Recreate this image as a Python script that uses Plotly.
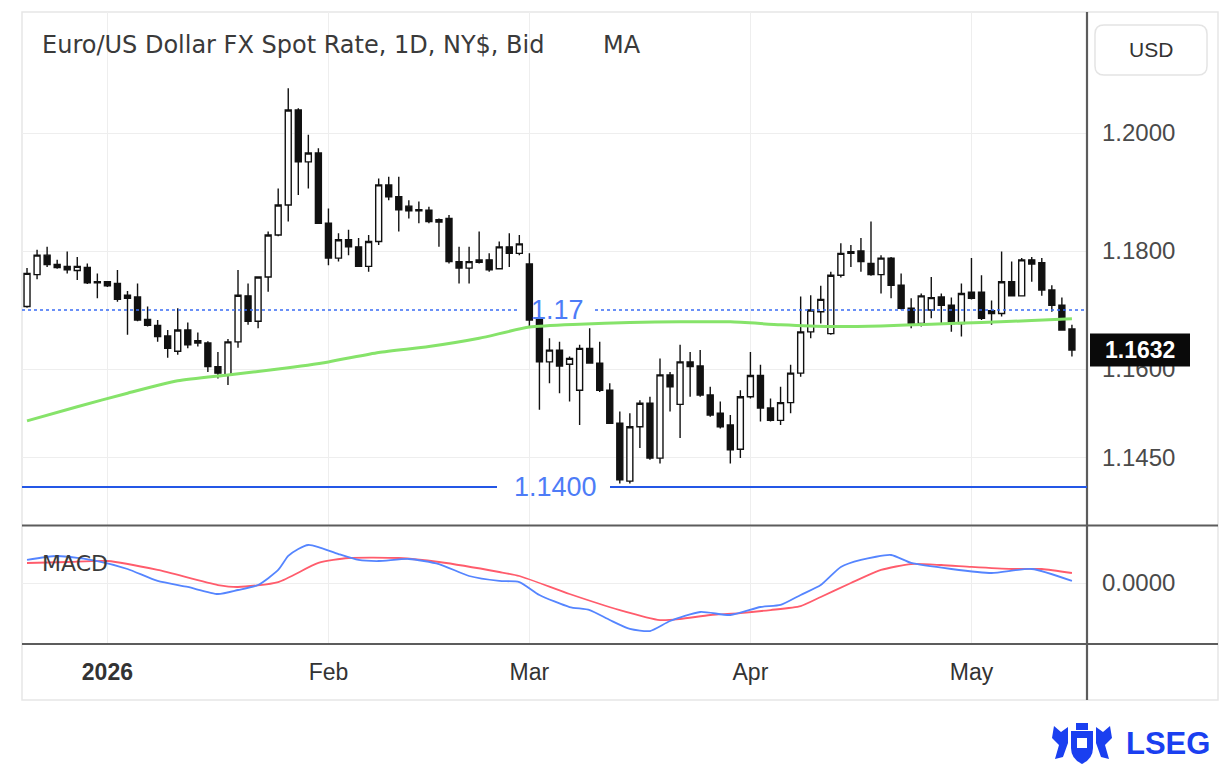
import plotly.graph_objects as go
import pandas as pd

# ---------------- data ----------------
dates = [d.strftime("%Y-%m-%d") for d in pd.bdate_range("2025-12-22", "2026-05-15")]

opens = [1.1706, 1.1760, 1.1793, 1.1777, 1.1774, 1.1767, 1.1772, 1.1746, 1.1748, 1.1745,
         1.1725, 1.1722, 1.1684, 1.1674, 1.1656, 1.1630, 1.1666, 1.1648, 1.1644, 1.1604,
         1.1590, 1.1646, 1.1724, 1.1681, 1.1756, 1.1827, 1.1878, 1.2039, 1.1951, 1.1966,
         1.1847, 1.1788, 1.1819, 1.1807, 1.1774, 1.1816, 1.1912, 1.1892, 1.1876, 1.1868,
         1.1869, 1.1853, 1.1855, 1.1782, 1.1771, 1.1781, 1.1785, 1.1770, 1.1807, 1.1796,
         1.1778, 1.1684, 1.1612, 1.1632, 1.1608, 1.1564, 1.1635, 1.1610, 1.1564, 1.1508,
         1.1410, 1.1502, 1.1542, 1.1449, 1.1590, 1.1540, 1.1612, 1.1605, 1.1556, 1.1525,
         1.1505, 1.1464, 1.1553, 1.1589, 1.1534, 1.1513, 1.1543, 1.1593, 1.1663, 1.1697,
         1.1660, 1.1759, 1.1796, 1.1800, 1.1779, 1.1760, 1.1788, 1.1742, 1.1703, 1.1677,
         1.1700, 1.1722, 1.1708, 1.1677, 1.1730, 1.1730, 1.1699, 1.1694, 1.1748, 1.1724,
         1.1785, 1.1780, 1.1734, 1.1708, 1.1668]
highs = [1.1771, 1.1802, 1.1807, 1.1785, 1.1799, 1.1790, 1.1779, 1.1762, 1.1749, 1.1768,
         1.1732, 1.1745, 1.1706, 1.1683, 1.1666, 1.1703, 1.1679, 1.1662, 1.1647, 1.1629,
         1.1651, 1.1768, 1.1745, 1.1757, 1.1833, 1.1906, 1.2076, 1.2042, 1.1997, 1.1974,
         1.1872, 1.1830, 1.1836, 1.1822, 1.1827, 1.1923, 1.1926, 1.1926, 1.1886, 1.1884,
         1.1875, 1.1855, 1.1861, 1.1807, 1.1807, 1.1833, 1.1796, 1.1816, 1.1830, 1.1827,
         1.1796, 1.1689, 1.1652, 1.1646, 1.1621, 1.1641, 1.1669, 1.1646, 1.1576, 1.1528,
         1.1525, 1.1547, 1.1553, 1.1618, 1.1595, 1.1641, 1.1629, 1.1632, 1.1570, 1.1545,
         1.1522, 1.1564, 1.1629, 1.1607, 1.1550, 1.1570, 1.1607, 1.1723, 1.1725, 1.1741,
         1.1765, 1.1813, 1.1810, 1.1822, 1.1850, 1.1793, 1.1790, 1.1762, 1.1720, 1.1728,
         1.1756, 1.1728, 1.1721, 1.1745, 1.1788, 1.1759, 1.1716, 1.1799, 1.1782, 1.1788,
         1.1790, 1.1788, 1.1742, 1.1721, 1.1675]
lows = [1.1704, 1.1752, 1.1773, 1.1770, 1.1762, 1.1751, 1.1744, 1.1720, 1.1739, 1.1714,
        1.1658, 1.1681, 1.1672, 1.1646, 1.1619, 1.1624, 1.1635, 1.1638, 1.1595, 1.1584,
        1.1573, 1.1636, 1.1675, 1.1669, 1.1731, 1.1825, 1.1850, 1.1895, 1.1906, 1.1847,
        1.1776, 1.1782, 1.1793, 1.1773, 1.1765, 1.1810, 1.1886, 1.1833, 1.1855, 1.1847,
        1.1847, 1.1807, 1.1779, 1.1745, 1.1745, 1.1779, 1.1765, 1.1769, 1.1773, 1.1793,
        1.1672, 1.1531, 1.1576, 1.1559, 1.1545, 1.1505, 1.1610, 1.1561, 1.1508, 1.1406,
        1.1406, 1.1466, 1.1446, 1.1440, 1.1528, 1.1483, 1.1553, 1.1553, 1.1519, 1.1499,
        1.1440, 1.1449, 1.1550, 1.1511, 1.1511, 1.1505, 1.1525, 1.1587, 1.1652, 1.1677,
        1.1658, 1.1755, 1.1773, 1.1765, 1.1758, 1.1728, 1.1720, 1.1701, 1.1669, 1.1672,
        1.1686, 1.1677, 1.1663, 1.1655, 1.1718, 1.1683, 1.1675, 1.1689, 1.1723, 1.1723,
        1.1748, 1.1724, 1.1697, 1.1665, 1.1621]
closes = [1.1762, 1.1793, 1.1777, 1.1772, 1.1768, 1.1774, 1.1746, 1.1748, 1.1741, 1.1718,
          1.1720, 1.1683, 1.1674, 1.1655, 1.1635, 1.1666, 1.1641, 1.1644, 1.1604, 1.1593,
          1.1646, 1.1725, 1.1681, 1.1756, 1.1827, 1.1878, 1.2039, 1.1951, 1.1966, 1.1847,
          1.1788, 1.1819, 1.1807, 1.1774, 1.1816, 1.1912, 1.1892, 1.1870, 1.1868, 1.1870,
          1.1850, 1.1849, 1.1782, 1.1771, 1.1782, 1.1785, 1.1768, 1.1807, 1.1796, 1.1812,
          1.1683, 1.1612, 1.1632, 1.1605, 1.1618, 1.1635, 1.1610, 1.1564, 1.1508, 1.1412,
          1.1502, 1.1542, 1.1449, 1.1590, 1.1570, 1.1612, 1.1604, 1.1556, 1.1522, 1.1502,
          1.1463, 1.1553, 1.1589, 1.1534, 1.1513, 1.1543, 1.1593, 1.1663, 1.1700, 1.1718,
          1.1759, 1.1796, 1.1799, 1.1782, 1.1760, 1.1788, 1.1742, 1.1703, 1.1677, 1.1724,
          1.1721, 1.1708, 1.1677, 1.1728, 1.1720, 1.1686, 1.1694, 1.1748, 1.1724, 1.1785,
          1.1778, 1.1734, 1.1708, 1.1666, 1.1632]

ma_dates = ["2025-12-22", "2025-12-29", "2026-01-05", "2026-01-12", "2026-01-19", "2026-01-26",
            "2026-02-02", "2026-02-09", "2026-02-16", "2026-02-23", "2026-03-02", "2026-03-09",
            "2026-03-16", "2026-03-23", "2026-03-30", "2026-04-06", "2026-04-13", "2026-04-20",
            "2026-04-27", "2026-05-04", "2026-05-11", "2026-05-15"]
ma_values = [1.1512, 1.1536, 1.1559, 1.1580, 1.1590, 1.1600, 1.1612, 1.1628, 1.1638, 1.1652,
             1.1671, 1.1676, 1.1679, 1.1680, 1.1680, 1.1675, 1.1672, 1.1673, 1.1676, 1.1679,
             1.1682, 1.1685]

macd_dates = ["2025-12-22", "2025-12-25", "2025-12-31", "2026-01-05", "2026-01-08", "2026-01-13",
              "2026-01-16", "2026-01-20", "2026-01-22", "2026-01-26", "2026-01-27", "2026-01-28",
              "2026-01-29", "2026-01-30", "2026-02-03", "2026-02-05", "2026-02-09", "2026-02-12",
              "2026-02-17", "2026-02-20", "2026-02-25", "2026-02-27", "2026-03-03", "2026-03-06",
              "2026-03-10", "2026-03-12", "2026-03-16", "2026-03-18", "2026-03-20", "2026-03-25",
              "2026-03-30", "2026-04-02", "2026-04-06", "2026-04-08", "2026-04-10", "2026-04-14",
              "2026-04-16", "2026-04-21", "2026-04-23", "2026-04-29", "2026-05-05", "2026-05-11",
              "2026-05-15"]
macd_values = [0.00329, 0.00386, 0.00314, 0.00200, 0.00029, -0.00057, -0.00157, -0.00100,
               -0.00029, 0.00186, 0.00386, 0.00486, 0.00543, 0.00514, 0.00414, 0.00329,
               0.00314, 0.00343, 0.00271, 0.00100, 0.00029, 0.00014, -0.00171, -0.00343,
               -0.00386, -0.00529, -0.00657, -0.00686, -0.00543, -0.00414, -0.00457, -0.00343,
               -0.00314, -0.00171, -0.00029, 0.00229, 0.00329, 0.00400, 0.00286, 0.00200,
               0.00143, 0.00200, 0.00029]

signal_dates = ["2025-12-22", "2025-12-26", "2026-01-01", "2026-01-08", "2026-01-16", "2026-01-20",
                "2026-01-26", "2026-01-30", "2026-02-04", "2026-02-11", "2026-02-17", "2026-02-25",
                "2026-02-27", "2026-03-06", "2026-03-13", "2026-03-19", "2026-03-23", "2026-03-26",
                "2026-03-31", "2026-04-03", "2026-04-08", "2026-04-10", "2026-04-15", "2026-04-20",
                "2026-04-23", "2026-04-28", "2026-05-01", "2026-05-07", "2026-05-12", "2026-05-15"]
signal_values = [0.00286, 0.00300, 0.00314, 0.00186, -0.00029, -0.00057, 0.00014, 0.00286,
                 0.00357, 0.00357, 0.00300, 0.00157, 0.00100, -0.00157, -0.00386, -0.00529,
                 -0.00514, -0.00457, -0.00429, -0.00386, -0.00330, -0.00200, 0.00000, 0.00186,
                 0.00271, 0.00257, 0.00229, 0.00200, 0.00200, 0.00143]

price_ticks = [1.1450, 1.1600, 1.1800, 1.2000]
month_tick_dates = ["2026-01-01", "2026-02-02", "2026-03-02", "2026-04-01", "2026-05-01"]
month_tick_text = ["<b>2026</b>", "Feb", "Mar", "Apr", "May"]
support_level = 1.1400
dotted_level = 1.17
last_price = closes[-1]

# ---------------- helpers (pixel -> paper) ----------------
L, R, T, B = 22, 1087, 12, 644
W, H = R - L, B - T


def px(X):
    return (X - L) / W


def py(Y):
    return (B - Y) / H


def path(points):
    s = "M " + " L ".join(f"{px(x):.5f},{py(y):.5f}" for x, y in points) + " Z"
    return s


FONT_T = "DejaVu Sans"
FONT_N = "Liberation Sans"
GRID = "#eeeeee"
DARK = "#5c5c5c"

fig = go.Figure()

fig.add_trace(go.Candlestick(
    x=dates, open=opens, high=highs, low=lows, close=closes,
    increasing=dict(line=dict(color="#111111", width=1.4), fillcolor="#ffffff"),
    decreasing=dict(line=dict(color="#111111", width=1.4), fillcolor="#111111"),
    whiskerwidth=0, xaxis="x", yaxis="y", hoverinfo="skip", name="EUR/USD"))

fig.add_trace(go.Scatter(x=ma_dates, y=ma_values, mode="lines",
                         line=dict(color="#86e36a", width=3, shape="spline", smoothing=0.6),
                         xaxis="x", yaxis="y", hoverinfo="skip", name="MA"))

fig.add_trace(go.Scatter(x=signal_dates, y=signal_values, mode="lines",
                         line=dict(color="#ff5c6c", width=1.8, shape="spline", smoothing=0.6),
                         xaxis="x", yaxis="y2", hoverinfo="skip", name="Signal"))
fig.add_trace(go.Scatter(x=macd_dates, y=macd_values, mode="lines",
                         line=dict(color="#5585ff", width=1.8, shape="spline", smoothing=0.6),
                         xaxis="x", yaxis="y2", hoverinfo="skip", name="MACD"))

main_dom = [py(525), 1]
macd_dom = [0, py(526.5)]
px_per_unit = 5900.0
ytop = 1.18 + (251 - T) / px_per_unit
ybot = ytop - (525 - T) / px_per_unit
macd_scale = 7000.0
m_top = (583 - 526.5) / macd_scale
m_bot = -(644 - 583) / macd_scale

fig.update_layout(
    width=1220, height=773,
    margin=dict(l=L, r=1220 - R, t=T, b=773 - B),
    paper_bgcolor="white", plot_bgcolor="white",
    showlegend=False,
    boxgap=0.15,
    xaxis=dict(type="category", anchor="y2", range=[-0.5, len(dates) + 0.5],
               tickvals=month_tick_dates, ticktext=month_tick_text,
               showgrid=True, gridcolor=GRID, gridwidth=1.2, zeroline=False, showline=False,
               ticks="", ticklabelstandoff=12,
               tickfont=dict(family=FONT_N, size=23, color="#333333"),
               rangeslider=dict(visible=False)),
    yaxis=dict(domain=main_dom, range=[ybot, ytop], side="right",
               tickvals=price_ticks, ticktext=[f"{v:.4f}" for v in price_ticks],
               showgrid=True, gridcolor=GRID, gridwidth=1.2, zeroline=False, showline=False,
               ticks="", ticklabelstandoff=14,
               tickfont=dict(family=FONT_N, size=24, color="#4a4a4a")),
    yaxis2=dict(domain=macd_dom, range=[m_bot, m_top], side="right",
                tickvals=[0.0], ticktext=["0.0000"],
                showgrid=True, gridcolor=GRID, gridwidth=1.2, zeroline=False, showline=False,
                ticks="", ticklabelstandoff=14,
                tickfont=dict(family=FONT_N, size=24, color="#4a4a4a")),
)

shapes = []
# outer light frame
shapes.append(dict(type="rect", xref="paper", yref="paper", x0=0, x1=px(1218), y0=py(700), y1=1,
                   line=dict(color="#e6e6e6", width=1.5), layer="below"))
# vertical axis line
shapes.append(dict(type="line", xref="paper", yref="paper", x0=1, x1=1, y0=py(700), y1=1,
                   line=dict(color=DARK, width=2.2)))
# pane separators
for yy in (525.5, 644):
    shapes.append(dict(type="line", xref="paper", yref="paper", x0=0, x1=px(1218), y0=py(yy), y1=py(yy),
                       line=dict(color=DARK, width=2.2)))
# 1.1400 support line with gap for label
for a, b in ((22, 497), (610, 1087)):
    shapes.append(dict(type="line", xref="paper", yref="y", x0=px(a), x1=px(b),
                       y0=support_level, y1=support_level, line=dict(color="#2457e6", width=2)))
# 1.17 dotted line with gap
for a, b in ((22, 519), (595, 1087)):
    shapes.append(dict(type="line", xref="paper", yref="y", x0=px(a), x1=px(b),
                       y0=dotted_level, y1=dotted_level, line=dict(color="#3a6cf5", width=1.6, dash="dot")))
# last price box
shapes.append(dict(type="rect", xref="paper", yref="y", x0=px(1090), x1=px(1190),
                   ysizemode="pixel", yanchor=last_price, y0=-16.5, y1=16.5,
                   fillcolor="#0a0a0a", line=dict(width=0)))
# USD rounded box
x0b, x1b, y0b, y1b, r = 1095, 1207, 25, 75, 9
usd = (f"M {px(x0b + r):.5f},{py(y0b):.5f} L {px(x1b - r):.5f},{py(y0b):.5f} "
       f"Q {px(x1b):.5f},{py(y0b):.5f} {px(x1b):.5f},{py(y0b + r):.5f} "
       f"L {px(x1b):.5f},{py(y1b - r):.5f} Q {px(x1b):.5f},{py(y1b):.5f} {px(x1b - r):.5f},{py(y1b):.5f} "
       f"L {px(x0b + r):.5f},{py(y1b):.5f} Q {px(x0b):.5f},{py(y1b):.5f} {px(x0b):.5f},{py(y1b - r):.5f} "
       f"L {px(x0b):.5f},{py(y0b + r):.5f} Q {px(x0b):.5f},{py(y0b):.5f} {px(x0b + r):.5f},{py(y0b):.5f} Z")
shapes.append(dict(type="path", xref="paper", yref="paper", path=usd,
                   line=dict(color="#e4e4e4", width=1.5), fillcolor="rgba(0,0,0,0)"))
# LSEG crest (approximation)
BLUE = "#1a3ff0"
shield = (f"M {px(1071):.5f},{py(731):.5f} L {px(1093):.5f},{py(731):.5f} L {px(1093):.5f},{py(748):.5f} "
          f"Q {px(1093):.5f},{py(759):.5f} {px(1082):.5f},{py(764):.5f} "
          f"Q {px(1071):.5f},{py(759):.5f} {px(1071):.5f},{py(748):.5f} Z")
shapes.append(dict(type="path", xref="paper", yref="paper", path=shield, fillcolor=BLUE, line=dict(width=0)))
shapes.append(dict(type="path", xref="paper", yref="paper",
                   path=path([(1076, 723), (1088, 723), (1088, 730), (1076, 730)]),
                   fillcolor=BLUE, line=dict(width=0)))
shapes.append(dict(type="path", xref="paper", yref="paper",
                   path=path([(1054, 726), (1061, 732), (1068, 727), (1068, 743), (1063, 757),
                              (1055, 759), (1059, 745), (1052, 738)]),
                   fillcolor=BLUE, line=dict(width=0)))
shapes.append(dict(type="path", xref="paper", yref="paper",
                   path=path([(1110, 726), (1103, 732), (1096, 727), (1096, 743), (1101, 757),
                              (1109, 759), (1105, 745), (1112, 738)]),
                   fillcolor=BLUE, line=dict(width=0)))
shapes.append(dict(type="path", xref="paper", yref="paper",
                   path=path([(1077, 738), (1087, 738), (1087, 748), (1077, 748)]),
                   fillcolor="white", line=dict(width=0)))
fig.update_layout(shapes=shapes)

ann = []
ann.append(dict(xref="paper", yref="paper", x=px(40), y=py(45), xanchor="left", yanchor="middle",
                text="Euro/US Dollar FX Spot Rate, 1D, NY$, Bid", showarrow=False,
                font=dict(family=FONT_T, size=24, color="#3a3a3a")))
ann.append(dict(xref="paper", yref="paper", x=px(601), y=py(45), xanchor="left", yanchor="middle",
                text="MA", showarrow=False, font=dict(family=FONT_T, size=24, color="#3a3a3a")))
ann.append(dict(xref="paper", yref="paper", x=px(40), y=py(563), xanchor="left", yanchor="middle",
                text="MACD", showarrow=False, font=dict(family=FONT_T, size=22, color="#3a3a3a")))
ann.append(dict(xref="paper", yref="paper", x=px(1151), y=py(50), xanchor="center", yanchor="middle",
                text="USD", showarrow=False, font=dict(family=FONT_N, size=21, color="#333333")))
ann.append(dict(xref="paper", yref="y", x=px(557), y=dotted_level, xanchor="center", yanchor="middle",
                text="1.17", showarrow=False, font=dict(family=FONT_N, size=27, color="#4d7cf7")))
ann.append(dict(xref="paper", yref="y", x=px(555), y=support_level, xanchor="center", yanchor="middle",
                text=f"{support_level:.4f}", showarrow=False, font=dict(family=FONT_N, size=27, color="#4d7cf7")))
ann.append(dict(xref="paper", yref="y", x=px(1140), y=last_price, xanchor="center", yanchor="middle",
                text=f"<b>{last_price:.4f}</b>", showarrow=False,
                font=dict(family=FONT_N, size=23, color="white")))
ann.append(dict(xref="paper", yref="paper", x=px(1168), y=py(743), xanchor="center", yanchor="middle",
                text="<b>LSEG</b>", showarrow=False, font=dict(family=FONT_N, size=31, color=BLUE)))
fig.update_layout(annotations=ann)

fig.write_html("out.html", config={"displayModeBar": False})
